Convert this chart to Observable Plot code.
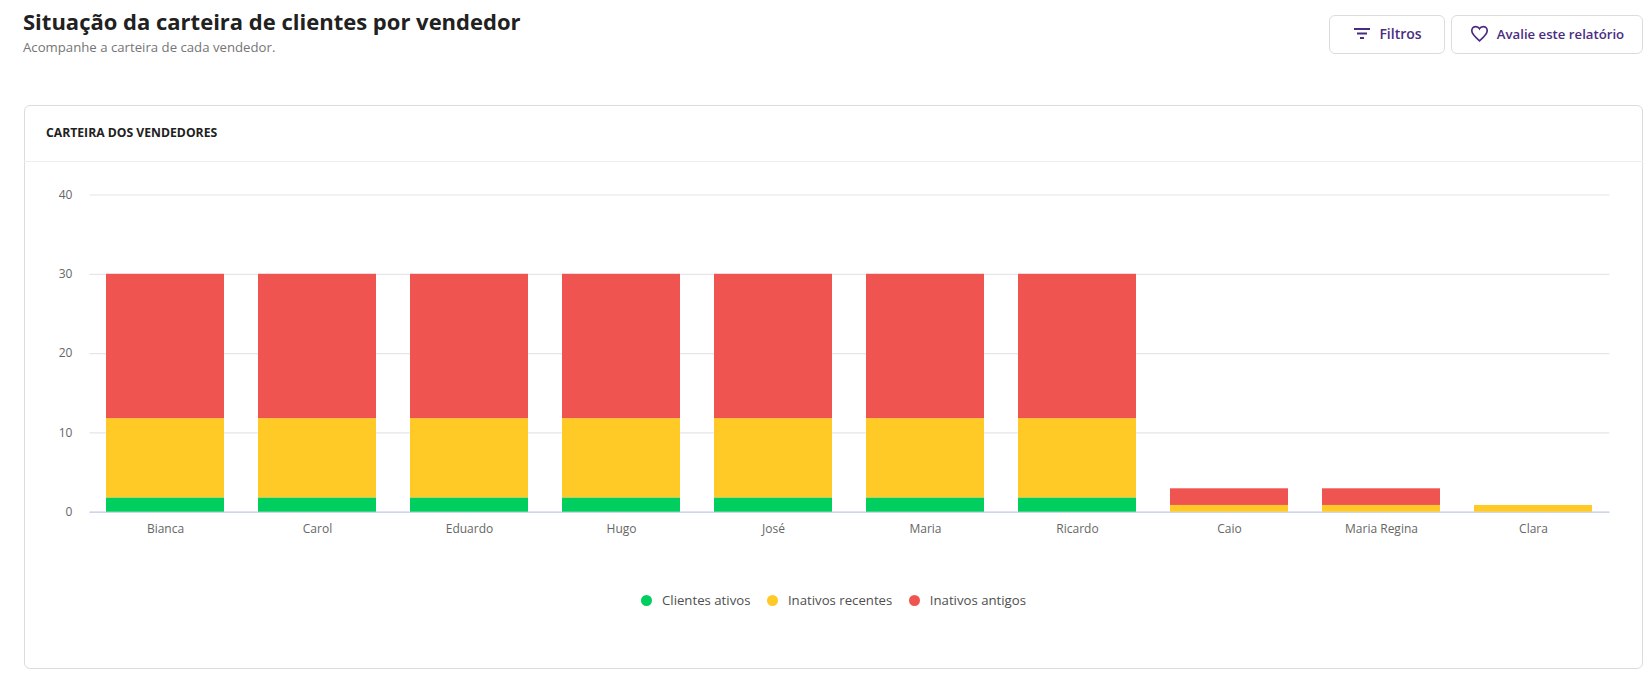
<!DOCTYPE html>
<html><head><meta charset="utf-8">
<script src="https://cdn.jsdelivr.net/npm/d3@7"></script>
<script src="https://cdn.jsdelivr.net/npm/@observablehq/plot@0.6"></script>
<style>
html,body{margin:0;padding:0;background:#fff;overflow:hidden}
body{width:1650px;height:683px;position:relative;font-family:"Open Sans","Noto Sans",sans-serif;color:#212121}
.abs{position:absolute;white-space:nowrap}
#title{left:23px;top:5px;font-size:22px;font-weight:700;line-height:32px;color:#212121}
#sub{left:23px;top:38px;font-size:13.2px;line-height:18px;color:#757575}
.btn{position:absolute;top:15px;height:39px;box-sizing:border-box;border:1px solid #dcdcdf;border-radius:6px;background:#fff;color:#4a2d82;font-size:14px;font-weight:600;display:flex;align-items:center;justify-content:center;gap:9px;padding-bottom:2px}
#card{position:absolute;left:24px;top:105px;width:1619px;height:564px;box-sizing:border-box;border:1px solid #dcdcdf;border-radius:6px;background:#fff}
#hdr{position:absolute;left:24px;top:105px;width:1619px;height:57px;box-sizing:border-box;border-bottom:1px solid #eeeeee}
#cardtitle{left:46px;top:124px;font-size:12.2px;font-weight:700;line-height:18px;color:#212121}
#chart{position:absolute;left:24px;top:170px}
#legend{position:absolute;left:24px;top:590px;width:1619px;display:flex;justify-content:center;gap:16.5px;font-size:13.2px;color:#4f4f4f;line-height:20px}
#legend span.i{display:flex;align-items:center;gap:10px}
#legend i{display:inline-block;width:11px;height:11px;border-radius:50%}
</style></head><body>
<div class="abs" id="title">Situação da carteira de clientes por vendedor</div>
<div class="abs" id="sub">Acompanhe a carteira de cada vendedor.</div>
<div class="btn" style="left:1329px;width:116px;padding-left:2px">
<svg width="16" height="11" viewBox="0 0 16 11"><path d="M0 1h16M3 5.500h10M6 10h4" stroke="#4a2d82" stroke-width="1.800" fill="none"/></svg>Filtros</div>
<div class="btn" style="left:1451px;width:192px;font-size:13.2px;gap:8px">
<svg width="19" height="17" viewBox="0 0 24 22"><path d="M12 20.500C5 14.500 2 11.500 2 7.500 2 4.200 4.500 2 7.200 2c2 0 3.800 1 4.800 2.800C13 3 14.800 2 16.800 2 19.500 2 22 4.200 22 7.500c0 4-3 7-10 13z" stroke="#4a2d82" stroke-width="2.200" fill="none"/></svg>Avalie este relatório</div>
<div id="card"></div><div id="hdr"></div>
<div class="abs" id="cardtitle">CARTEIRA DOS VENDEDORES</div>
<div id="chart"></div>
<div id="legend"></div>
<script>
const vendedores = ["Bianca","Carol","Eduardo","Hugo","José","Maria","Ricardo","Caio","Maria Regina","Clara"];
const series = ["Clientes ativos","Inativos recentes","Inativos antigos"];
const cores = ["#00ce5f","#ffc926","#f05451"];
const ativos   = [1.8,1.8,1.8,1.8,1.8,1.8,1.8,0,0,0];
const recentes = [10,10,10,10,10,10,10,0.85,0.85,0.85];
const antigos  = [18.2,18.2,18.2,18.2,18.2,18.2,18.2,2.1,2.1,0];
const yTicks = [0,10,20,30,40];
const rows = [];
[ativos,recentes,antigos].forEach((vals,s)=>vals.forEach((v,i)=>rows.push({vendedor:vendedores[i],serie:series[s],valor:v,ordem:s})));
const plot = Plot.plot({
  width:1600,height:400,marginLeft:65.4,marginRight:14.6,marginTop:24.5,marginBottom:58.3,
  style:{fontFamily:'"Open Sans","Noto Sans",sans-serif',fontSize:"12px",color:"#666",background:"transparent",overflow:"visible"},
  x:{domain:vendedores,paddingInner:0.224,paddingOuter:0.112,label:null,tickSize:0,tickPadding:12.5},
  y:{domain:[0,40],ticks:yTicks,label:null,tickSize:0,tickPadding:17.5},
  color:{domain:series,range:cores},
  marks:[
    Plot.gridY(yTicks,{stroke:"#e6e6ea",strokeOpacity:1,strokeWidth:1.2}),
    Plot.ruleY([0],{stroke:"#ccd6eb",strokeWidth:1.5}),
    Plot.barY(rows,{x:"vendedor",y:"valor",fill:"serie",order:"ordem"})
  ]
});
document.getElementById("chart").append(plot);
const lg=document.getElementById("legend");
series.forEach((s,i)=>{const e=document.createElement("span");e.className="i";const d=document.createElement("i");d.style.background=cores[i];e.append(d,s);lg.append(e);});
</script>
</body></html>
